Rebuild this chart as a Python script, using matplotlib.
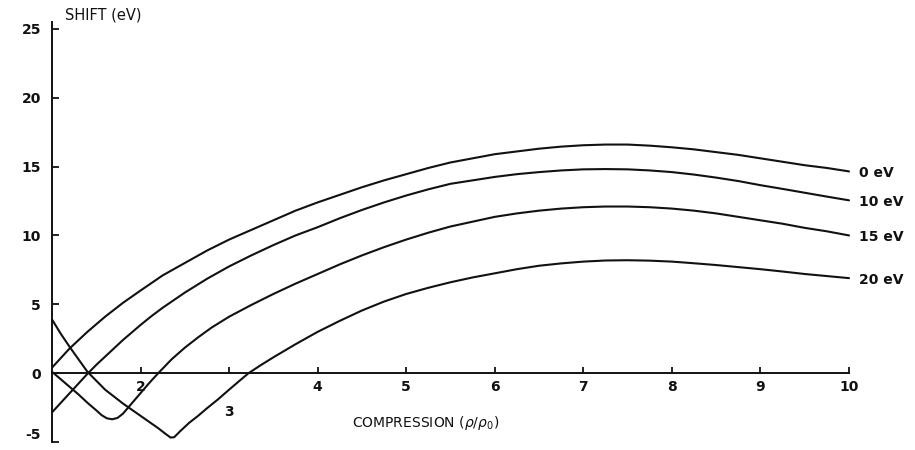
import matplotlib
matplotlib.use("Agg")
import matplotlib.pyplot as plt

# Compression ratio (rho/rho0) and line shift (eV) for each temperature curve
x_0ev = [1.0, 1.1, 1.2, 1.3, 1.4, 1.5, 1.6, 1.7, 1.8, 1.9, 2.0, 2.125, 2.25, 2.375, 2.5,
         2.75, 3.0, 3.25, 3.5, 3.75, 4.0, 4.25, 4.5, 4.75, 5.0, 5.25, 5.5, 5.75, 6.0,
         6.25, 6.5, 6.75, 7.0, 7.25, 7.5, 7.75, 8.0, 8.25, 8.5, 8.75, 9.0, 9.25, 9.5,
         9.75, 10.0]
y_0ev = [0.4, 1.1, 1.8, 2.4, 3.0, 3.55, 4.1, 4.6, 5.1, 5.55, 6.0, 6.55, 7.1, 7.55, 8.0,
         8.9, 9.7, 10.4, 11.1, 11.8, 12.4, 12.95, 13.5, 14.0, 14.45, 14.9, 15.3, 15.6, 15.9,
         16.1, 16.3, 16.45, 16.55, 16.6, 16.6, 16.52, 16.4, 16.25, 16.05, 15.85, 15.6, 15.35, 15.1,
         14.9, 14.65]

x_10ev = [1.0, 1.1, 1.2, 1.3, 1.4, 1.5, 1.6, 1.7, 1.8, 1.9, 2.0, 2.125, 2.25, 2.375, 2.5,
          2.75, 3.0, 3.25, 3.5, 3.75, 4.0, 4.25, 4.5, 4.75, 5.0, 5.25, 5.5, 5.75, 6.0,
          6.25, 6.5, 6.75, 7.0, 7.25, 7.5, 7.75, 8.0, 8.25, 8.5, 8.75, 9.0, 9.25, 9.5,
          9.75, 10.0]
y_10ev = [-2.85, -2.15, -1.45, -0.75, -0.05, 0.6, 1.2, 1.8, 2.4, 2.95, 3.5, 4.15, 4.75, 5.3, 5.85,
          6.85, 7.75, 8.55, 9.3, 10.0, 10.6, 11.25, 11.85, 12.4, 12.9, 13.35, 13.75, 14.0, 14.25,
          14.45, 14.6, 14.72, 14.8, 14.82, 14.8, 14.72, 14.6, 14.42, 14.2, 13.95, 13.65, 13.38, 13.1,
          12.82, 12.55]

x_15ev = [1.0, 1.1, 1.2, 1.3, 1.4, 1.5, 1.56, 1.62, 1.68, 1.74, 1.8, 1.9, 2.0, 2.1, 2.2,
          2.35, 2.5, 2.65, 2.8, 3.0, 3.25, 3.5, 3.75, 4.0, 4.25, 4.5, 4.75, 5.0, 5.25,
          5.5, 5.75, 6.0, 6.25, 6.5, 6.75, 7.0, 7.25, 7.5, 7.75, 8.0, 8.25, 8.5, 8.75,
          9.0, 9.25, 9.5, 9.75, 10.0]
y_15ev = [0.1, -0.45, -1.0, -1.55, -2.15, -2.7, -3.05, -3.28, -3.35, -3.25, -2.95, -2.2, -1.45, -0.7, 0.0,
          1.0, 1.85, 2.6, 3.3, 4.1, 4.95, 5.75, 6.5, 7.2, 7.9, 8.55, 9.15, 9.7, 10.2,
          10.65, 11.0, 11.35, 11.6, 11.8, 11.95, 12.05, 12.1, 12.1, 12.05, 11.95, 11.8, 11.6, 11.35,
          11.1, 10.85, 10.55, 10.3, 10.0]

x_20ev = [1.0, 1.1, 1.2, 1.3, 1.4, 1.5, 1.6, 1.7, 1.8, 1.9, 2.0, 2.1, 2.2, 2.28, 2.34,
          2.38, 2.45, 2.55, 2.65, 2.75, 2.875, 3.0, 3.1, 3.22, 3.35, 3.5, 3.75, 4.0, 4.25,
          4.5, 4.75, 5.0, 5.25, 5.5, 5.75, 6.0, 6.25, 6.5, 6.75, 7.0, 7.25, 7.5, 7.75,
          8.0, 8.25, 8.5, 8.75, 9.0, 9.25, 9.5, 9.75, 10.0]
y_20ev = [3.9, 2.85, 1.9, 1.0, 0.1, -0.55, -1.2, -1.7, -2.2, -2.65, -3.1, -3.55, -4.0, -4.4, -4.68,
          -4.65, -4.2, -3.6, -3.1, -2.55, -1.9, -1.2, -0.65, 0.0, 0.55, 1.15, 2.1, 3.0, 3.8,
          4.55, 5.2, 5.75, 6.2, 6.6, 6.95, 7.25, 7.55, 7.8, 7.97, 8.1, 8.18, 8.2, 8.17,
          8.1, 7.98, 7.85, 7.7, 7.55, 7.38, 7.2, 7.05, 6.9]

curve_labels = ["0 eV", "10 eV", "15 eV", "20 eV"]
x_ticks = [2, 3, 4, 5, 6, 7, 8, 9, 10]
y_ticks = [-5, 0, 5, 10, 15, 20, 25]

ink = "#111111"
plt.rcParams["font.family"] = ["DejaVu Sans"]

fig = plt.figure(figsize=(9.15, 4.5), dpi=100)
fig.patch.set_facecolor("white")
ax = fig.add_axes([52 / 915, 8 / 450, (849 - 52) / 915, (428 - 8) / 450])
ax.set_xlim(1, 10)
ax.set_ylim(-5, 25.5)

series = [(x_0ev, y_0ev), (x_10ev, y_10ev), (x_15ev, y_15ev), (x_20ev, y_20ev)]
for (xs, ys), lab in zip(series, curve_labels):
    ax.plot(xs, ys, color=ink, lw=1.5, solid_joinstyle="round",
            solid_capstyle="round", clip_on=False)
    ax.annotate(lab, xy=(xs[-1], ys[-1]), xytext=(7, -1), textcoords="offset points",
                ha="left", va="center", fontsize=10, fontweight="bold", color=ink,
                annotation_clip=False)

# Axes: left spine plus an x axis running along y = 0
for side in ("top", "right"):
    ax.spines[side].set_visible(False)
ax.spines["bottom"].set_position(("data", 0))
for side in ("left", "bottom"):
    ax.spines[side].set_linewidth(1.4)
    ax.spines[side].set_color(ink)

ax.set_xticks(x_ticks)
ax.set_xticklabels(["" if t == 3 else str(t) for t in x_ticks])
ax.set_yticks(y_ticks)
ax.set_yticklabels([str(t) for t in y_ticks])
ax.tick_params(axis="both", direction="in", colors=ink, width=1.3, labelsize=10)
ax.tick_params(axis="x", length=4, pad=5)
ax.tick_params(axis="y", length=5, pad=8)
for lab in ax.get_xticklabels() + ax.get_yticklabels():
    lab.set_fontweight("bold")
# keep the lowest label inside the figure
ax.get_yticklabels()[0].set_verticalalignment("bottom")

# the "3" sits lower, below the crossing curves
ax.annotate("3", xy=(3, 0), xytext=(0, -28), textcoords="offset points",
            ha="center", va="center", fontsize=10, fontweight="bold", color=ink,
            annotation_clip=False)

fig.text(65 / 915, 1 - 15 / 450, "SHIFT (eV)", ha="left", va="center",
         fontsize=10.5, color=ink)
fig.text(352 / 915, 1 - 423 / 450, r"COMPRESSION ($\rho/\rho_0$)", ha="left",
         va="center", fontsize=10, color=ink)

fig.savefig("out.png", dpi=100, facecolor="white")
